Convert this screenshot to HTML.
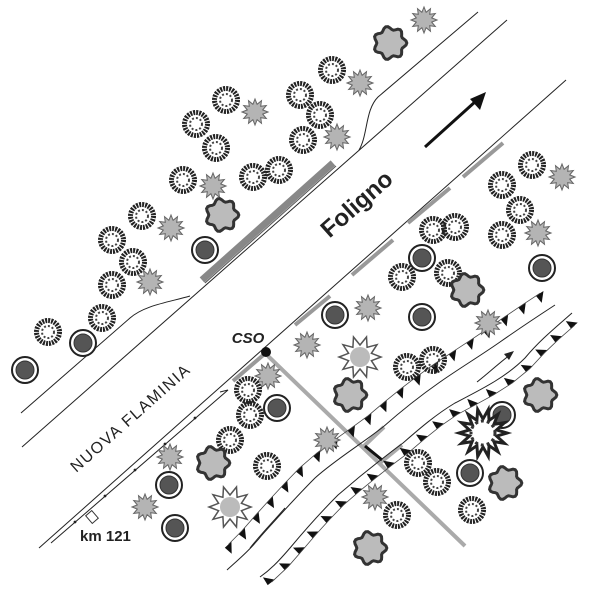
<!DOCTYPE html>
<html><head><meta charset="utf-8"><style>
html,body{margin:0;padding:0;background:#fff;width:600px;height:600px;overflow:hidden}
svg{display:block}
</style></head><body>
<svg id="s" width="600" height="600" viewBox="0 0 600 600" xmlns="http://www.w3.org/2000/svg">
<rect width="600" height="600" fill="#fff"/>
<g fill="none" stroke="#222" stroke-width="1">
<path d="M478,12 L378,97 C365,110 368,135 359,150"/>
<path d="M507,20 L22,447"/>
<path d="M190,296 C170,302 145,305 130,318 L21,413"/>
<path d="M566,80 L39,548"/>
<path d="M51,543 L228,390 L220,392"/>
</g>
<g fill="#222"><circle cx="75" cy="522" r="1.4"/><circle cx="105" cy="496" r="1.4"/><circle cx="135" cy="470" r="1.4"/><circle cx="165" cy="444" r="1.4"/><circle cx="195" cy="418" r="1.4"/></g>
<rect x="88" y="512" width="8" height="10" fill="#fff" stroke="#333" transform="rotate(-41 92 517)"/>
<line x1="202" y1="280" x2="333" y2="163" stroke="#888" stroke-width="7"/>
<line x1="202" y1="280" x2="333" y2="163" stroke="#555" stroke-width="1" transform="translate(3,3)"/>
<g stroke="#999" stroke-width="4">
<line x1="463" y1="177" x2="503" y2="143"/>
<line x1="408" y1="223" x2="450" y2="188"/>
<line x1="352" y1="275" x2="393" y2="240"/>
<line x1="295" y1="325" x2="330" y2="296"/>
<line x1="233" y1="381" x2="268" y2="351"/>
</g>
<g stroke="#aaa" stroke-width="4" fill="none">
<line x1="268" y1="356" x2="465" y2="546"/>
<polyline points="384,427 363,447"/>
<polyline points="402,445 380,463"/>
</g>
<line x1="365" y1="446" x2="382" y2="460" stroke="#111" stroke-width="3"/>
<circle cx="266" cy="352" r="5" fill="#111"/>
<text x="248" y="343" font-family="Liberation Sans,sans-serif" font-style="italic" font-weight="bold" font-size="15" text-anchor="middle" fill="#222">CSO</text>
<text transform="translate(362,210) rotate(-41.5)" font-family="Liberation Sans,sans-serif" font-weight="bold" font-size="24" text-anchor="middle" fill="#222">Foligno</text>
<text transform="translate(134,422) rotate(-41.5)" font-family="Liberation Sans,sans-serif" font-size="16" letter-spacing="1.5" text-anchor="middle" fill="#222">NUOVA  FLAMINIA</text>
<text x="80" y="541" font-family="Liberation Sans,sans-serif" font-weight="bold" font-size="15" fill="#222">km 121</text>
<line x1="425" y1="147" x2="476" y2="101" stroke="#111" stroke-width="3"/>
<polygon points="486,92 470,99 480,110" fill="#111"/>
<g fill="none" stroke="#222" stroke-width="1">
<path id="b1" d="M555,305 C535,318 520,328 500,342 C480,356 460,368 440,382 C420,396 400,412 383,427 C360,445 335,460 315,478 C295,498 280,515 262,535 C250,550 238,560 227,570"/>
<path id="b2" d="M572,313 C555,328 540,340 525,358 C505,378 480,390 455,403 C435,415 418,430 403,443 C380,460 360,476 338,495 C318,515 305,530 290,548 C278,562 270,570 260,577"/>
<path d="M477,382 C490,372 500,362 510,355"/>
<path d="M250,548 C262,533 272,523 285,508"/>
</g>
<polygon points="514,351 504,354 509,360" fill="#222"/>
<g id="ticks" fill="#111"></g>
<g id="trees"></g>
</svg>
<script>
var NS="http://www.w3.org/2000/svg";
function el(t,a,p){var e=document.createElementNS(NS,t);for(var k in a)e.setAttribute(k,a[k]);(p||document.getElementById('trees')).appendChild(e);return e;}
function star(cx,cy,n,ro,ri){var p=[];for(var i=0;i<2*n;i++){var r=i%2?ri:ro,a=Math.PI*i/n;p.push((cx+r*Math.cos(a)).toFixed(1)+","+(cy+r*Math.sin(a)).toFixed(1));}return p.join(" ");}
function blob(cx,cy,r){var p=[];for(var i=0;i<48;i++){var a=Math.PI*2*i/48;var rr=r*(1+0.12*Math.cos(7*a));p.push((cx+rr*Math.cos(a)).toFixed(1)+","+(cy+rr*Math.sin(a)).toFixed(1));}return p.join(" ");}
function A(x,y){el('circle',{cx:x,cy:y,r:11.5,fill:'none',stroke:'#222','stroke-width':5,'stroke-dasharray':'2 1'});el('circle',{cx:x,cy:y,r:6,fill:'none',stroke:'#444','stroke-width':2,'stroke-dasharray':'2 2'});}
function B(x,y){el('polygon',{points:star(x,y,12,13,8),fill:'#b4b4b4',stroke:'#666','stroke-width':1});}
function C(x,y){el('circle',{cx:x,cy:y,r:13,fill:'#fff',stroke:'#222','stroke-width':2});el('circle',{cx:x,cy:y,r:9,fill:'#555',stroke:'#333','stroke-width':1});}
function D(x,y){el('polygon',{points:blob(x,y,15),fill:'#bbb',stroke:'#333','stroke-width':3});}
function E(x,y){el('polygon',{points:star(x,y,10,21,12),fill:'#fff',stroke:'#555','stroke-width':1.5});el('circle',{cx:x,cy:y,r:10,fill:'#bbb'});}
function F(x,y){el('polygon',{points:star(x,y,14,24,14),fill:'#fff',stroke:'#222','stroke-width':3});el('circle',{cx:x,cy:y,r:12,fill:'none',stroke:'#333','stroke-width':3,'stroke-dasharray':'3 3'});}
var T=[
'A',226,100,'B',255,112,'A',196,124,'A',216,148,'A',183,180,'B',213,186,'A',253,177,'A',279,170,'D',222,215,'A',142,216,'B',171,228,'C',205,250,'A',112,240,'A',133,262,'A',112,285,'B',150,282,
'A',300,95,'A',332,70,'B',360,83,'A',320,115,'B',337,137,'A',303,140,'D',390,43,'B',424,20,
'A',48,332,'C',83,343,'C',25,370,'A',102,318,
'A',532,165,'B',562,177,'A',502,185,'A',520,210,'A',502,235,'B',538,233,'C',542,268,'A',433,230,'A',455,227,'C',422,258,'A',402,277,'A',448,273,'D',467,290,
'C',335,315,'B',368,308,'C',422,317,'B',488,323,'B',307,345,'E',360,357,'A',407,367,'A',433,360,'D',350,395,'B',327,440,
'C',502,415,'F',483,433,'D',540,395,'A',418,463,'A',437,482,'C',470,473,'D',505,483,'A',472,510,'B',375,497,'A',397,515,'D',370,548,
'B',268,376,'A',248,390,'A',250,415,'C',277,408,'A',230,440,'D',213,463,'A',267,466,
'B',170,457,'C',169,485,'B',145,507,'C',175,528,'E',230,507];
var f={A:A,B:B,C:C,D:D,E:E,F:F};
for(var i=0;i<T.length;i+=3)f[T[i]](T[i+1],T[i+2]);
function ticks(id,off){var p=document.getElementById(id),L=p.getTotalLength(),g=document.getElementById('ticks');var pts=[];
for(var s=6;s<L;s+=21){var a=p.getPointAtLength(s),b=p.getPointAtLength(Math.min(L,s+1));var dx=b.x-a.x,dy=b.y-a.y,m=Math.hypot(dx,dy)||1;dx/=m;dy/=m;var nx=-dy,ny=dx;
var w=(s/21)%2?2:-2;var bx=a.x+nx*(off+w),by=a.y+ny*(off+w);var sg=off>0?1:-1;var tip=[bx-nx*9*sg+dx*4,by-ny*9*sg+dy*4];
pts.push(bx+","+by);
el('polygon',{points:(bx+dx*5)+","+(by+dy*5)+" "+(bx-dx*4)+","+(by-dy*4)+" "+tip[0]+","+tip[1],fill:'#111'},g);}
el('polyline',{points:pts.join(" "),fill:'none',stroke:'#444','stroke-width':0.8},g);}
ticks('b1',16);ticks('b2',-13);
</script>
</body></html>
